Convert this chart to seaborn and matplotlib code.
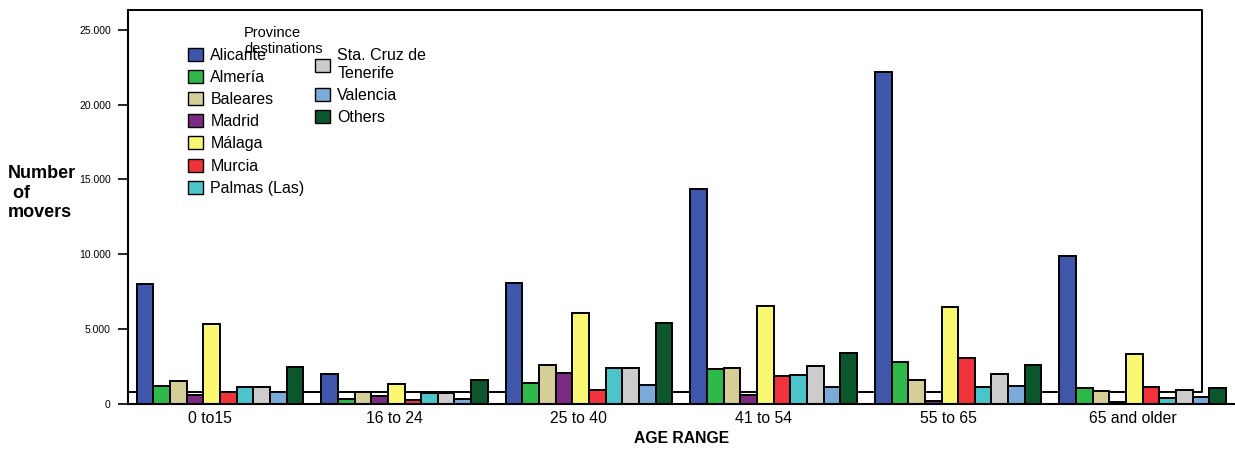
import pandas as pd
import matplotlib
matplotlib.use('Agg')
import matplotlib.pyplot as plt
import seaborn as sns
from matplotlib.patches import Patch
from matplotlib.ticker import FuncFormatter

# Categories and series values (number of movers)
age_ranges = ['0 to15', '16 to 24', '25 to 40', '41 to 54', '55 to 65', '65 and older']
provinces = ['Alicante', 'Almería', 'Baleares', 'Madrid', 'Málaga', 'Murcia',
             'Palmas (Las)', 'Sta. Cruz de\nTenerife', 'Valencia', 'Others']
alicante = [8000, 2020, 8050, 14380, 22180, 9870]
almeria = [1180, 310, 1380, 2310, 2780, 1020]
baleares = [1490, 750, 2600, 2380, 1600, 870]
madrid = [550, 530, 2070, 550, 150, 100]
malaga = [5330, 1310, 6050, 6550, 6450, 3310]
murcia = [780, 270, 910, 1820, 3050, 1090]
palmas = [1150, 690, 2420, 1930, 1090, 400]
sta_cruz = [1110, 690, 2420, 2490, 1980, 890]
valencia = [780, 330, 1220, 1110, 1180, 420]
others = [2470, 1580, 5400, 3380, 2600, 1070]
series = [alicante, almeria, baleares, madrid, malaga, murcia, palmas, sta_cruz, valencia, others]
colors = ['#3F57AB', '#2EB84A', '#D5CF97', '#7B2A82', '#FAF872', '#F0333B',
          '#4BC5C9', '#CCCCCC', '#7AAAD8', '#0B562D']
y_ticks = [0, 5000, 10000, 15000, 20000, 25000]

# Long-form table for seaborn
rows = []
for prov, vals in zip(provinces, series):
    for age, v in zip(age_ranges, vals):
        rows.append({'Age': age, 'Province': prov, 'Movers': v})
df = pd.DataFrame(rows)

sns.set_style("white")
plt.rcParams['font.family'] = ['Liberation Sans', 'DejaVu Sans']
plt.rcParams.update({'text.color': 'black', 'axes.labelcolor': 'black',
                     'xtick.color': 'black', 'ytick.color': 'black'})

W, H = 1235, 449
fig = plt.figure(figsize=(W / 100, H / 100), dpi=100)
ax = fig.add_axes([127.7 / W, 1 - 403.7 / H, (W - 127.7) / W, 393.4 / H])

sns.barplot(data=df, x='Age', y='Movers', hue='Province', order=age_ranges,
            hue_order=provinces, palette=dict(zip(provinces, colors)),
            width=0.902, edgecolor='black', linewidth=1.4, saturation=1,
            legend=False, ax=ax, zorder=2)

ax.set_xlim(-0.5, 5.5)
ax.set_ylim(0, 26318)
ax.set_yticks(y_ticks)
ax.yaxis.set_major_formatter(FuncFormatter(lambda v, p: '0' if v == 0 else f'{int(v):,}'.replace(',', '.')))
ax.tick_params(axis='y', length=7.2, width=1.2, pad=5, labelsize=7.5, left=True)
ax.set_xticks([i - 0.055 for i in range(len(age_ranges))])
ax.set_xticklabels(age_ranges, fontsize=11.3)
ax.tick_params(axis='x', length=0, pad=5)

ax.set_xlabel('AGE RANGE', fontsize=11.3, fontweight='bold', labelpad=4)
ax.set_ylabel('')

for s in ['top', 'right']:
    ax.spines[s].set_visible(False)
for s in ['left', 'bottom']:
    ax.spines[s].set_linewidth(1.5)
    ax.spines[s].set_color('black')
    ax.spines[s].set_zorder(3)

# SPSS style inner frame (drawn behind the bars)
fx = (1201.7 - 127.7) / (W - 127.7)
fy = (403.7 - 392.3) / 393.4
ax.plot([0, fx, fx, 0], [1, 1, fy, fy], transform=ax.transAxes, color='black',
        linewidth=1.4, clip_on=False, zorder=1)

# Y axis title
fig.text(8 / W, 1 - 193 / H, 'Number\n of\nmovers', fontsize=13, fontweight='bold',
         ha='left', va='center', multialignment='left')

# Legend
handles = [Patch(facecolor=c, edgecolor='black', linewidth=1.0) for c in colors]
leg_kw = dict(frameon=False, fontsize=11.5, borderpad=0, borderaxespad=0,
              handlelength=0.92, handleheight=0.88, handletextpad=0.48,
              labelspacing=0.45, loc='upper left', bbox_transform=fig.transFigure)
leg1 = ax.legend(handles[:7], provinces[:7], bbox_to_anchor=(188 / W, 1 - 47.5 / H), **leg_kw)
ax.add_artist(leg1)
leg2 = ax.legend(handles[7:], provinces[7:], bbox_to_anchor=(315 / W, 1 - 48.5 / H), **leg_kw)
fig.text(244 / W, 1 - 26 / H, 'Province\ndestinations', fontsize=10.5,
         ha='left', va='top', multialignment='left', linespacing=1.2)

plt.savefig('out.png', dpi=100)
